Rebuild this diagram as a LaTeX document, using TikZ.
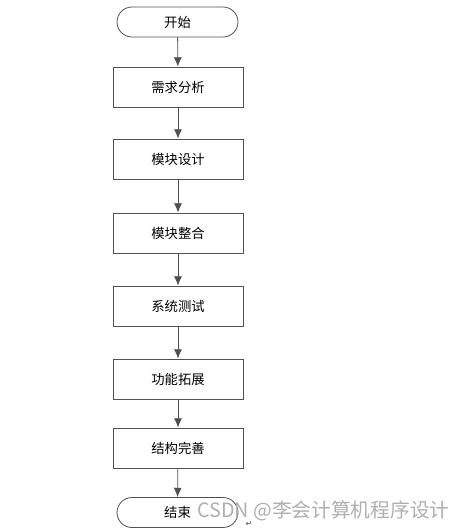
\documentclass[tikz,border=0pt]{standalone}
\usepackage{fontspec}
\setmainfont{Noto Sans CJK SC}
\newfontfamily\djv{DejaVu Sans}
\usetikzlibrary{arrows.meta,shapes.misc}
\definecolor{linegray}{RGB}{80,80,80}
\definecolor{wmgray}{RGB}{175,175,175}
\begin{document}
\begin{tikzpicture}[x=0.75pt,y=-0.75pt,
  stepbox/.style={draw=linegray,line width=0.6pt,minimum width=130*0.75pt,minimum height=40*0.75pt,inner sep=0pt,font=\fontsize{10}{12}\selectfont},
  termbox/.style={draw=linegray,line width=0.6pt,rounded rectangle,minimum width=121*0.75pt,minimum height=30*0.75pt,inner sep=0pt,font=\fontsize{10}{12}\selectfont},
  flow/.style={draw=linegray,line width=0.6pt,-{Latex[length=7pt,width=6pt]}}]
\useasboundingbox (0,0) rectangle (466,532);
\fill[white] (0,0) rectangle (466,532);
\node[termbox] (start) at (177.5,22) {开始};
\node[stepbox] (s1) at (178,87) {需求分析};
\node[stepbox] (s2) at (178,159) {模块设计};
\node[stepbox] (s3) at (178,233) {模块整合};
\node[stepbox] (s4) at (178,306) {系统测试};
\node[stepbox] (s5) at (178,379) {功能拓展};
\node[stepbox] (s6) at (178,448) {结构完善};
\node[termbox] (end) at (177.5,512.5) {结束};
\draw[flow] (start) -- (s1);
\draw[flow] (s1) -- (s2);
\draw[flow] (s2) -- (s3);
\draw[flow] (s3) -- (s4);
\draw[flow] (s4) -- (s5);
\draw[flow] (s5) -- (s6);
\draw[flow] (s6) -- (end);
\node[anchor=west,text=wmgray,inner sep=0pt,font=\fontsize{14.8}{16}\selectfont] (wm) at (197,511) {CSDN @李会计算机程序设计};
\node[text=linegray,inner sep=0pt,font=\djv\fontsize{6}{7}\selectfont] (ret) at (249,524) {↵};
\end{tikzpicture}
\end{document}
